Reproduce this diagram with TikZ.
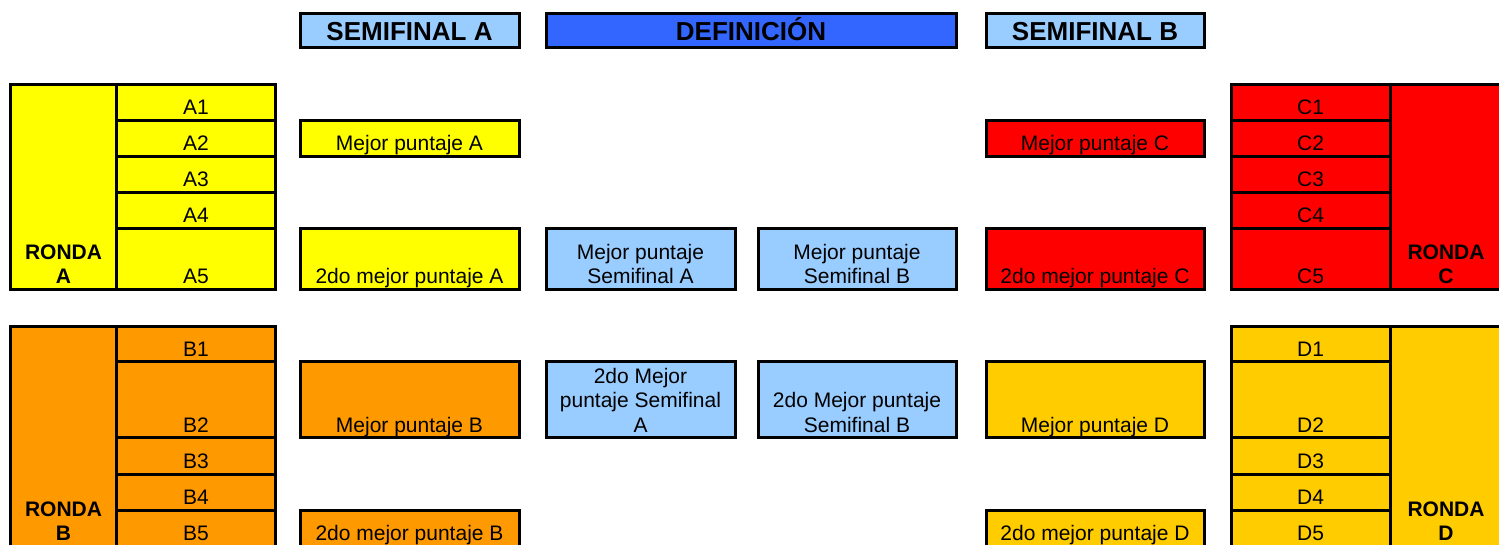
\documentclass[tikz,border=0pt]{standalone}
\usepackage{fontspec}
\setmainfont{Liberation Sans}
\usepackage{xcolor}
\usepackage{tikz}
\usetikzlibrary{fit}

\definecolor{amarillo}{HTML}{FFFF00}
\definecolor{rojo}{HTML}{FF0000}
\definecolor{naranja}{HTML}{FF9900}
\definecolor{oro}{HTML}{FFCC00}
\definecolor{celeste}{HTML}{99CCFF}
\definecolor{azul}{HTML}{3366FF}

\newcommand{\apoyo}{\rule[-5.5pt]{0pt}{5.5pt}}

\tikzset{
    celda/.style={draw=black, line width=3pt, inner sep=0pt, outer sep=0pt},
    texto/.style={anchor=south, inner sep=0pt, outer sep=0pt, align=center,
        font=\fontsize{21}{24.5}\selectfont},
    ronda/.style={texto, font=\fontsize{21}{24.5}\selectfont\bfseries},
    titulo/.style={texto, yshift=1.5pt, font=\fontsize{26}{30}\selectfont\bfseries}
}

\begin{document}
\begin{tikzpicture}[x=1pt, y=-1pt]
            %%% FRAME %%%
            \useasboundingbox (0,0) rectangle (1499,544);
            \clip (0,0) rectangle (1499,544);

            %%% HEADERS %%%
            \node[celda, fill=celeste, fit={(300,13.5) (519,47.5)}, label={[titulo, name=tsemiA]south:SEMIFINAL A\apoyo}] (semiA) {};
            \node[celda, fill=azul, fit={(546,13.5) (956,47.5)}, label={[titulo, name=tdefin]south:DEFINICIÓN\apoyo}] (defin) {};
            \node[celda, fill=celeste, fit={(986,13.5) (1204,47.5)}, label={[titulo, name=tsemiB]south:SEMIFINAL B\apoyo}] (semiB) {};

            %%% RONDA A %%%
            \node[celda, fill=amarillo, fit={(10.5,84.5) (116.5,289)}, label={[ronda, name=trA]south:RONDA\\A\apoyo}] (rA) {};
            \foreach \n/\ya/\yb in {1/84.5/120, 2/120/156, 3/156/192, 4/192/228, 5/228/289}
                \node[celda, fill=amarillo, fit={(116.5,\ya) (275.5,\yb)}, label={[texto, name=ta\n]south:A\n\apoyo}] (a\n) {};

            %%% RONDA B %%%
            \node[celda, fill=naranja, fit={(10.5,326) (116.5,546)}, label={[ronda, name=trB]south:RONDA\\B\apoyo}] (rB) {};
            \foreach \n/\ya/\yb in {1/326/361.5, 2/361.5/437.5, 3/437.5/474, 4/474/510, 5/510/546}
                \node[celda, fill=naranja, fit={(116.5,\ya) (275.5,\yb)}, label={[texto, name=tb\n]south:B\n\apoyo}] (b\n) {};

            %%% RONDA C %%%
            \foreach \n/\ya/\yb in {1/84.5/120, 2/120/156, 3/156/192, 4/192/228, 5/228/289}
                \node[celda, fill=rojo, fit={(1231,\ya) (1390,\yb)}, label={[texto, name=tc\n]south:C\n\apoyo}] (c\n) {};
            \node[celda, fill=rojo, fit={(1390,84.5) (1502,289)}, label={[ronda, name=trC]south:RONDA\\C\apoyo}] (rC) {};

            %%% RONDA D %%%
            \foreach \n/\ya/\yb in {1/326/361.5, 2/361.5/437.5, 3/437.5/474, 4/474/510, 5/510/546}
                \node[celda, fill=oro, fit={(1231,\ya) (1390,\yb)}, label={[texto, name=td\n]south:D\n\apoyo}] (d\n) {};
            \node[celda, fill=oro, fit={(1390,326) (1502,546)}, label={[ronda, name=trD]south:RONDA\\D\apoyo}] (rD) {};

            %%% SEMIFINAL A %%%
            \node[celda, fill=amarillo, fit={(300,120) (519,156)}, label={[texto, name=tmejA]south:Mejor puntaje A\apoyo}] (mejA) {};
            \node[celda, fill=amarillo, fit={(300,228) (519,289)}, label={[texto, name=tsegA]south:2do mejor puntaje A\apoyo}] (segA) {};
            \node[celda, fill=naranja, fit={(300,361.5) (519,437.5)}, label={[texto, name=tmejB]south:Mejor puntaje B\apoyo}] (mejB) {};
            \node[celda, fill=naranja, fit={(300,510) (519,546)}, label={[texto, name=tsegB]south:2do mejor puntaje B\apoyo}] (segB) {};

            %%% SEMIFINAL B %%%
            \node[celda, fill=rojo, fit={(986,120) (1204,156)}, label={[texto, name=tmejC]south:Mejor puntaje C\apoyo}] (mejC) {};
            \node[celda, fill=rojo, fit={(986,228) (1204,289)}, label={[texto, name=tsegC]south:2do mejor puntaje C\apoyo}] (segC) {};
            \node[celda, fill=oro, fit={(986,361.5) (1204,437.5)}, label={[texto, name=tmejD]south:Mejor puntaje D\apoyo}] (mejD) {};
            \node[celda, fill=oro, fit={(986,510) (1204,546)}, label={[texto, name=tsegD]south:2do mejor puntaje D\apoyo}] (segD) {};

            %%% DEFINICION %%%
            \node[celda, fill=celeste, fit={(546,228) (735,289)}, label={[texto, name=tfinA]south:Mejor puntaje\\Semifinal A\apoyo}] (finA) {};
            \node[celda, fill=celeste, fit={(758,228) (956,289)}, label={[texto, name=tfinB]south:Mejor puntaje\\Semifinal B\apoyo}] (finB) {};
            \node[celda, fill=celeste, fit={(546,361.5) (735,437.5)}, label={[texto, name=tsubA]south:2do Mejor\\puntaje Semifinal\\A\apoyo}] (subA) {};
            \node[celda, fill=celeste, fit={(758,361.5) (956,437.5)}, label={[texto, name=tsubB]south:2do Mejor puntaje\\Semifinal B\apoyo}] (subB) {};
\end{tikzpicture}
\end{document}
